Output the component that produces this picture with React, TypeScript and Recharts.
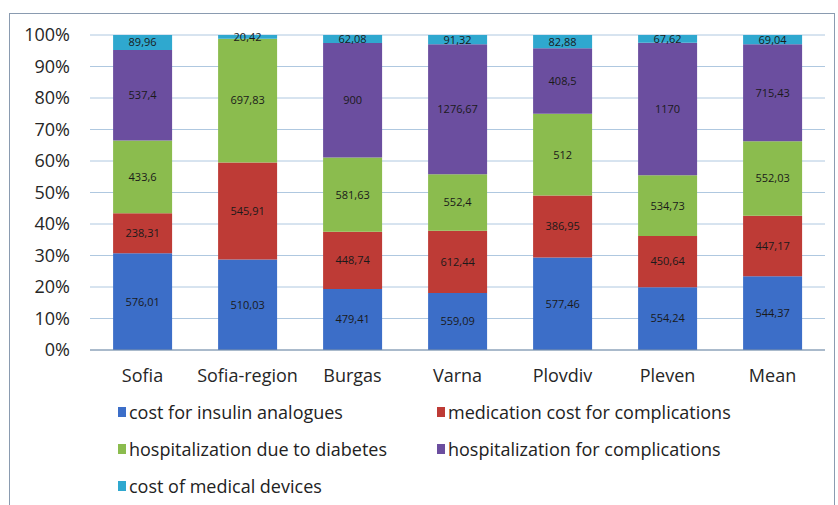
import React from 'react';
import {
  BarChart,
  Bar,
  XAxis,
  YAxis,
  CartesianGrid,
  Legend,
  LabelList,
  ReferenceLine,
} from 'recharts';

const categories = ['Sofia', 'Sofia-region', 'Burgas', 'Varna', 'Plovdiv', 'Pleven', 'Mean'];
const insulin = [576.01, 510.03, 479.41, 559.09, 577.46, 554.24, 544.37];
const medication = [238.31, 545.91, 448.74, 612.44, 386.95, 450.64, 447.17];
const hospDiabetes = [433.6, 697.83, 581.63, 552.4, 512, 534.73, 552.03];
const hospComplications = [537.4, 0, 900, 1276.67, 408.5, 1170, 715.43];
const devices = [89.96, 20.42, 62.08, 91.32, 82.88, 67.62, 69.04];
const yTicks = [0, 0.1, 0.2, 0.3, 0.4, 0.5, 0.6, 0.7, 0.8, 0.9, 1];

const series = [
  { key: 'insulin', name: 'cost for insulin analogues', color: '#3C6EC8' },
  { key: 'medication', name: 'medication cost for complications', color: '#BE3B36' },
  { key: 'hospDiabetes', name: 'hospitalization due to diabetes', color: '#8BBC4E' },
  { key: 'hospComplications', name: 'hospitalization for complications', color: '#6B4E9F' },
  { key: 'devices', name: 'cost of medical devices', color: '#2FA8CF' },
];

const data = categories.map((name, i) => ({
  name,
  insulin: insulin[i],
  medication: medication[i],
  hospDiabetes: hospDiabetes[i],
  hospComplications: hospComplications[i],
  devices: devices[i],
}));

const fmt = (v: any) => (v ? String(v).replace('.', ',') : '');

const renderLegend = () => (
  <div
    style={{
      display: 'grid',
      gridTemplateColumns: '319px 380px',
      rowGap: 13,
      fontFamily: "'Open Sans', sans-serif",
      fontSize: 18,
      color: '#222',
    }}
  >
    {series.map((s) => (
      <div key={s.key} style={{ display: 'flex', alignItems: 'center', height: 24 }}>
        <span
          style={{ width: 8, height: 10, background: s.color, display: 'inline-block', marginRight: 3 }}
        />
        {s.name}
      </div>
    ))}
  </div>
);

export default function App() {
  return (
    <div style={{ position: 'absolute', left: 0, top: 0, width: 838, height: 505, background: '#fff' }}>
      <div
        style={{
          position: 'absolute',
          left: 9,
          top: 13,
          width: 824,
          height: 500,
          border: '1px solid #8A9BB0',
        }}
      />
      <BarChart
        width={838}
        height={505}
        data={data}
        stackOffset="expand"
        barCategoryGap="22%"
        margin={{ top: 35, right: 13, left: 0, bottom: 115 }}
      >
        <CartesianGrid vertical={false} stroke="#AFC8E0" />
        <XAxis
          dataKey="name"
          axisLine={false}
          tickLine={false}
          tickSize={0}
          tickMargin={19}
          height={40}
          tick={{ fontSize: 18, fill: '#262626', fontFamily: "'Open Sans', sans-serif" }}
        />
        <YAxis
          width={90}
          ticks={yTicks}
          domain={[0, 1]}
          tickFormatter={(v) => `${Math.round(v * 100)}%`}
          axisLine={false}
          tickLine={false}
          tickSize={0}
          tickMargin={20}
          tick={{ fontSize: 18, fill: '#262626', fontFamily: "'Open Sans', sans-serif" }}
        />
        <ReferenceLine y={0} stroke="#7F92A8" />
        <Legend
          layout="vertical"
          align="center"
          verticalAlign="middle"
          content={renderLegend}
          wrapperStyle={{ left: 118, top: 400, width: 710 }}
        />
        {series.map((s) => (
          <Bar key={s.key} dataKey={s.key} name={s.name} stackId="a" fill={s.color} isAnimationActive={false}>
            <LabelList
              dataKey={s.key}
              position="center"
              formatter={fmt}
              style={{ fontSize: 11, fill: '#1a1a1a', fontFamily: "'Open Sans', sans-serif" }}
            />
          </Bar>
        ))}
      </BarChart>
    </div>
  );
}
